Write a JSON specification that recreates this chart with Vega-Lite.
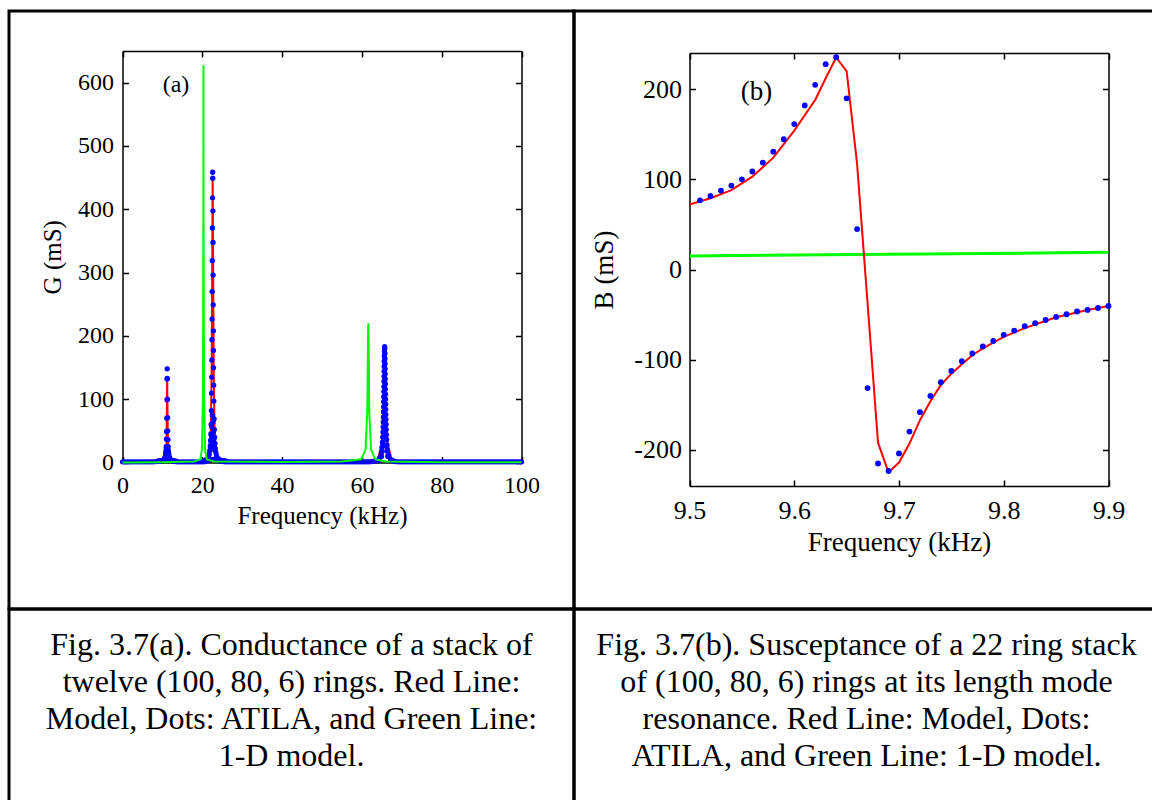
{
  "$schema": "https://vega.github.io/schema/vega-lite/v6.json",
  "background": "white",
  "padding": {"left": 7, "top": 9, "right": 0, "bottom": 0},
  "columns": 2,
  "spacing": 0,
  "bounds": "flush",
  "align": "each",
  "config": {
    "view": {"stroke": "black", "strokeWidth": 3},
    "font": "Liberation Serif",
    "concat": {"spacing": 0},
    "axis": {"grid": false, "domainColor": "black", "domainWidth": 1.5, "tickColor": "black", "tickWidth": 1.5, "tickSize": -6, "labelColor": "black", "titleColor": "black", "labelFont": "Liberation Serif", "titleFont": "Liberation Serif", "titleFontWeight": "normal", "labelFlush": false}
  },
  "datasets": {
    "aModel": [
      {"f":0,"g":0.5},{"f":5,"g":0.8},{"f":8,"g":1.5},{"f":10,"g":3},{"f":10.8,"g":8},{"f":11.0,"g":25},{"f":11.1,"g":70},{"f":11.2,"g":133},{"f":11.3,"g":70},{"f":11.4,"g":25},{"f":11.6,"g":8},{"f":12.5,"g":3},{"f":15,"g":1.5},{"f":20,"g":2.5},{"f":21.5,"g":8},{"f":22.1,"g":40},{"f":22.35,"g":150},{"f":22.5,"g":330},{"f":22.6,"g":452},{"f":22.7,"g":330},{"f":22.85,"g":150},{"f":23.1,"g":40},{"f":23.7,"g":8},{"f":25,"g":3},{"f":30,"g":1.5},{"f":40,"g":1},{"f":50,"g":1.5},{"f":60,"g":2},{"f":64,"g":4},{"f":65,"g":30},{"f":65.4,"g":90},{"f":65.6,"g":170},{"f":65.7,"g":182},{"f":65.8,"g":170},{"f":66,"g":90},{"f":66.4,"g":30},{"f":67.5,"g":4},{"f":70,"g":2},{"f":80,"g":1.5},{"f":100,"g":1}
    ],
    "a1D": [
      {"f":0,"g":0},{"f":10,"g":0.5},{"f":18,"g":1.5},{"f":19.5,"g":5},{"f":19.9,"g":20},{"f":20.15,"g":100},{"f":20.25,"g":300},{"f":20.3,"g":628},{"f":20.35,"g":300},{"f":20.45,"g":100},{"f":20.7,"g":20},{"f":21.1,"g":5},{"f":23,"g":1.5},{"f":40,"g":0.8},{"f":55,"g":1.5},{"f":59.8,"g":5},{"f":60.9,"g":20},{"f":61.35,"g":80},{"f":61.5,"g":180},{"f":61.6,"g":220},{"f":61.7,"g":180},{"f":61.85,"g":80},{"f":62.3,"g":20},{"f":63.4,"g":5},{"f":66,"g":1.5},{"f":80,"g":0.5},{"f":100,"g":0.3}
    ],
    "aAtila": [
      {"f":0,"g":1},{"f":0.6,"g":1},{"f":1.2,"g":1},{"f":1.8,"g":1},{"f":2.4,"g":1},{"f":3,"g":1},{"f":3.6,"g":1},{"f":4.2,"g":1},{"f":4.8,"g":1},{"f":5.4,"g":1},{"f":6,"g":1},{"f":6.6,"g":1},{"f":7.2,"g":1},{"f":7.8,"g":1},{"f":8.4,"g":1.5},{"f":9,"g":2},{"f":9.6,"g":2},{"f":10.2,"g":3},{"f":10.8,"g":4},{"f":11.4,"g":4},{"f":12,"g":3},{"f":12.6,"g":2},{"f":13.2,"g":1.5},{"f":13.8,"g":1},{"f":14.4,"g":1},{"f":15,"g":1},{"f":15.6,"g":1},{"f":16.2,"g":1},{"f":16.8,"g":1},{"f":17.4,"g":1},{"f":18,"g":1},{"f":18.6,"g":1},{"f":19.2,"g":1},{"f":19.8,"g":1},{"f":20.4,"g":1},{"f":21,"g":2},{"f":21.6,"g":4},{"f":22.2,"g":5},{"f":22.8,"g":5},{"f":23.4,"g":4},{"f":24,"g":4},{"f":24.6,"g":2},{"f":25.2,"g":1.5},{"f":25.8,"g":1},{"f":26.4,"g":1},{"f":27,"g":1},{"f":27.6,"g":1},{"f":28.2,"g":1},{"f":28.8,"g":1},{"f":29.4,"g":1},{"f":30,"g":1},{"f":30.6,"g":1},{"f":31.2,"g":1},{"f":31.8,"g":1},{"f":32.4,"g":1},{"f":33,"g":1},{"f":33.6,"g":1},{"f":34.2,"g":1},{"f":34.8,"g":1},{"f":35.4,"g":1},{"f":36,"g":1},{"f":36.6,"g":1},{"f":37.2,"g":1},{"f":37.8,"g":1},{"f":38.4,"g":1},{"f":39,"g":1},{"f":39.6,"g":1},{"f":40.2,"g":1},{"f":40.8,"g":1},{"f":41.4,"g":1},{"f":42,"g":1},{"f":42.6,"g":1},{"f":43.2,"g":1},{"f":43.8,"g":1},{"f":44.4,"g":1},{"f":45,"g":1},{"f":45.6,"g":1},{"f":46.2,"g":1},{"f":46.8,"g":1},{"f":47.4,"g":1},{"f":48,"g":1},{"f":48.6,"g":1},{"f":49.2,"g":1},{"f":49.8,"g":1},{"f":50.4,"g":1},{"f":51,"g":1},{"f":51.6,"g":1},{"f":52.2,"g":1},{"f":52.8,"g":1},{"f":53.4,"g":1},{"f":54,"g":1},{"f":54.6,"g":1},{"f":55.2,"g":1},{"f":55.8,"g":1},{"f":56.4,"g":1},{"f":57,"g":1},{"f":57.6,"g":1},{"f":58.2,"g":1},{"f":58.8,"g":1},{"f":59.4,"g":1},{"f":60,"g":1},{"f":60.6,"g":1},{"f":61.2,"g":1},{"f":61.8,"g":1},{"f":62.4,"g":1.5},{"f":63,"g":2},{"f":63.6,"g":3},{"f":64.2,"g":4},{"f":64.8,"g":10},{"f":66.6,"g":10},{"f":67.2,"g":4},{"f":67.8,"g":2},{"f":68.4,"g":1.5},{"f":69,"g":1},{"f":69.6,"g":1},{"f":70.2,"g":1},{"f":70.8,"g":1},{"f":71.4,"g":1},{"f":72,"g":1},{"f":72.6,"g":1},{"f":73.2,"g":1},{"f":73.8,"g":1},{"f":74.4,"g":1},{"f":75,"g":1},{"f":75.6,"g":1},{"f":76.2,"g":1},{"f":76.8,"g":1},{"f":77.4,"g":1},{"f":78,"g":1},{"f":78.6,"g":1},{"f":79.2,"g":1},{"f":79.8,"g":1},{"f":80.4,"g":1},{"f":81,"g":1},{"f":81.6,"g":1},{"f":82.2,"g":1},{"f":82.8,"g":1},{"f":83.4,"g":1},{"f":84,"g":1},{"f":84.6,"g":1},{"f":85.2,"g":1},{"f":85.8,"g":1},{"f":86.4,"g":1},{"f":87,"g":1},{"f":87.6,"g":1},{"f":88.2,"g":1},{"f":88.8,"g":1},{"f":89.4,"g":1},{"f":90,"g":1},{"f":90.6,"g":1},{"f":91.2,"g":1},{"f":91.8,"g":1},{"f":92.4,"g":1},{"f":93,"g":1},{"f":93.6,"g":1},{"f":94.2,"g":1},{"f":94.8,"g":1},{"f":95.4,"g":1},{"f":96,"g":1},{"f":96.6,"g":1},{"f":97.2,"g":1},{"f":97.8,"g":1},{"f":98.4,"g":1},{"f":99,"g":1},{"f":99.6,"g":1},{"f":100,"g":1},
      {"f":11.2,"g":148},{"f":11.22,"g":133},{"f":11.18,"g":132},{"f":11.25,"g":100},{"f":11.15,"g":99},{"f":11.3,"g":71},{"f":11.1,"g":70},{"f":11.35,"g":50},{"f":11.05,"g":49},{"f":11.4,"g":36},{"f":11.0,"g":37},{"f":11.45,"g":25},{"f":10.95,"g":25},{"f":11.5,"g":19},{"f":10.9,"g":19},{"f":11.55,"g":15},{"f":10.85,"g":15},{"f":11.6,"g":12},{"f":10.8,"g":12},{"f":11.7,"g":9},{"f":10.7,"g":9},{"f":11.8,"g":7},{"f":10.6,"g":7},{"f":11.9,"g":5.5},{"f":10.5,"g":5.5},{"f":12.1,"g":4.5},{"f":10.3,"g":4.5},{"f":12.4,"g":3.5},{"f":10.0,"g":3.5},{"f":12.8,"g":3},{"f":9.6,"g":3},{"f":13.3,"g":2.5},{"f":9.0,"g":2.5},
      {"f":22.6,"g":458.5},{"f":22.62,"g":449},{"f":22.555,"g":418},{"f":22.658,"g":397.5},{"f":22.528,"g":370.5},{"f":22.684,"g":347.7},{"f":22.5,"g":318.8},{"f":22.71,"g":296},{"f":22.475,"g":270},{"f":22.737,"g":249},{"f":22.449,"g":226.5},{"f":22.764,"g":208},{"f":22.425,"g":194},{"f":22.789,"g":177},{"f":22.398,"g":162},{"f":22.815,"g":149.5},{"f":22.369,"g":135},{"f":22.848,"g":122},{"f":22.333,"g":109.5},{"f":22.889,"g":97},{"f":22.28,"g":82},{"f":22.955,"g":69},{"f":22.215,"g":60},{"f":23.018,"g":52},{"f":22.147,"g":45},{"f":23.084,"g":40},{"f":22.08,"g":35},{"f":23.165,"g":30},{"f":21.99,"g":26},{"f":23.265,"g":22},{"f":21.88,"g":19},{"f":23.385,"g":16},{"f":21.725,"g":13},{"f":23.555,"g":11},{"f":21.55,"g":9},{"f":23.8,"g":7},{"f":21.3,"g":6},{"f":24.0,"g":5.5},{"f":21.0,"g":4.5},{"f":24.4,"g":4},{"f":20.6,"g":3.5},{"f":24.8,"g":3.5},{"f":25.3,"g":3},{"f":25.8,"g":2.5},{"f":22.5,"g":75},{"f":22.7,"g":64},{"f":22.4,"g":56},{"f":22.8,"g":48},{"f":22.3,"g":42},{"f":22.9,"g":37},{"f":22.2,"g":32},{"f":23.0,"g":27},{"f":22.1,"g":24},{"f":23.1,"g":20},
      {"f":65.7,"g":183},{"f":65.73,"g":180},{"f":65.65,"g":176},{"f":65.763,"g":172},{"f":65.625,"g":168},{"f":65.785,"g":164},{"f":65.605,"g":160},{"f":65.804,"g":156},{"f":65.587,"g":152},{"f":65.822,"g":148},{"f":65.57,"g":144},{"f":65.839,"g":140},{"f":65.553,"g":136},{"f":65.855,"g":132},{"f":65.536,"g":128},{"f":65.872,"g":124},{"f":65.519,"g":120},{"f":65.89,"g":116},{"f":65.501,"g":112},{"f":65.908,"g":108},{"f":65.482,"g":104},{"f":65.928,"g":100},{"f":65.462,"g":96},{"f":65.949,"g":92},{"f":65.44,"g":88},{"f":65.971,"g":84},{"f":65.416,"g":80},{"f":65.997,"g":76},{"f":65.39,"g":72},{"f":66.025,"g":68},{"f":65.359,"g":64},{"f":66.058,"g":60},{"f":65.323,"g":56},{"f":66.097,"g":52},{"f":65.281,"g":48},{"f":66.144,"g":44},{"f":65.227,"g":40},{"f":66.205,"g":36},{"f":65.157,"g":32},{"f":66.288,"g":28},{"f":65.057,"g":24},{"f":66.414,"g":20},{"f":64.892,"g":16},{"f":66.644,"g":12},{"f":64.53,"g":8},{"f":67.19,"g":5},{"f":64.3,"g":4},{"f":67.3,"g":3.5},{"f":63.8,"g":3},{"f":67.8,"g":3},{"f":64.9,"g":10},{"f":66.5,"g":10},{"f":65.1,"g":18},{"f":66.3,"g":18},{"f":65.2,"g":26},{"f":66.2,"g":26}
    ],
    "aLabel": [{"f":13.4,"g":597,"t":"(a)"}],
    "bModel": [
      {"f":9.5,"b":72},{"f":9.52,"b":79},{"f":9.54,"b":88},{"f":9.56,"b":103},{"f":9.58,"b":124},{"f":9.6,"b":154},{"f":9.61,"b":171},{"f":9.62,"b":188},{"f":9.63,"b":212},{"f":9.64,"b":235},{"f":9.65,"b":220},{"f":9.66,"b":117},{"f":9.68,"b":-192},{"f":9.69,"b":-225},{"f":9.7,"b":-214},{"f":9.71,"b":-193},{"f":9.72,"b":-167},{"f":9.73,"b":-146},{"f":9.74,"b":-128},{"f":9.75,"b":-115.5},{"f":9.76,"b":-105},{"f":9.77,"b":-95},{"f":9.78,"b":-87.5},{"f":9.8,"b":-74.6},{"f":9.82,"b":-65},{"f":9.85,"b":-53},{"f":9.88,"b":-45},{"f":9.9,"b":-40.5}
    ],
    "bAtila": [
      {"f":9.51,"b":76.7},{"f":9.52,"b":81.5},{"f":9.53,"b":87.5},{"f":9.54,"b":93},{"f":9.55,"b":100},{"f":9.56,"b":108.6},{"f":9.57,"b":118.5},{"f":9.58,"b":130.6},{"f":9.59,"b":144.4},{"f":9.6,"b":161.2},{"f":9.61,"b":181.9},{"f":9.62,"b":204.7},{"f":9.63,"b":227.6},{"f":9.64,"b":235.3},{"f":9.65,"b":189.7},{"f":9.66,"b":44.8},{"f":9.67,"b":-131.5},{"f":9.68,"b":-215},{"f":9.69,"b":-223.3},{"f":9.7,"b":-203.9},{"f":9.71,"b":-179.7},{"f":9.72,"b":-158.2},{"f":9.73,"b":-140.1},{"f":9.74,"b":-125},{"f":9.75,"b":-112.5},{"f":9.76,"b":-101.7},{"f":9.77,"b":-93.1},{"f":9.78,"b":-85.3},{"f":9.79,"b":-79.3},{"f":9.8,"b":-72.4},{"f":9.81,"b":-67.7},{"f":9.82,"b":-62.9},{"f":9.83,"b":-59.5},{"f":9.84,"b":-56},{"f":9.85,"b":-52.6},{"f":9.86,"b":-49.6},{"f":9.87,"b":-46.6},{"f":9.88,"b":-44.8},{"f":9.89,"b":-42.7},{"f":9.9,"b":-40.5}
    ],
    "b1D": [{"f":9.5,"b":15},{"f":9.9,"b":19}],
    "bLabel": [{"f":9.564,"b":197,"t":"(b)"}],
    "capA": [{"t":"Fig. 3.7(a). Conductance of a stack of\ntwelve (100, 80, 6) rings.  Red Line:\nModel, Dots: ATILA, and Green Line:\n1-D model."}],
    "capB": [{"t":"Fig. 3.7(b).  Susceptance of a 22 ring stack\nof (100, 80, 6) rings at its length mode\nresonance.  Red Line: Model, Dots:\nATILA, and Green Line: 1-D model."}]
  },
  "concat": [
    {
      "width": 565,
      "height": 598,
      "resolve": {"axis": {"x": "independent", "y": "independent"}},
      "layer": [
        {
          "data": {"name": "aModel"},
          "mark": {"type": "line", "color": "#ff0000", "strokeWidth": 2},
          "encoding": {
            "x": {"field": "f", "type": "quantitative", "scale": {"domain": [0, 100], "range": [113.5, 512.5], "nice": false, "zero": false},
              "axis": {"orient": "bottom", "offset": -146.5, "values": [0, 20, 40, 60, 80, 100], "labelFontSize": 24, "labelPadding": 17, "title": "Frequency (kHz)", "titleFontSize": 25, "titlePadding": 6}},
            "y": {"field": "g", "type": "quantitative", "scale": {"domain": [0, 650], "range": [451.5, 40], "nice": false, "zero": false},
              "axis": {"orient": "left", "offset": -113.5, "values": [0, 100, 200, 300, 400, 500, 600], "labelFontSize": 24, "labelPadding": 15, "title": "G  (mS)", "titleFontSize": 25, "titlePadding": 12}}
          }
        },
        {
          "data": {"name": "aAtila"},
          "mark": {"type": "circle", "color": "#0000ff", "size": 28, "opacity": 1},
          "encoding": {
            "x": {"field": "f", "type": "quantitative", "scale": {"domain": [0, 100], "range": [113.5, 512.5], "nice": false, "zero": false},
              "axis": {"orient": "top", "offset": -40, "values": [0, 20, 40, 60, 80, 100], "labels": false, "title": null}},
            "y": {"field": "g", "type": "quantitative", "scale": {"domain": [0, 650], "range": [451.5, 40], "nice": false, "zero": false},
              "axis": {"orient": "right", "offset": -52.5, "values": [0, 100, 200, 300, 400, 500, 600], "labels": false, "title": null}}
          }
        },
        {
          "data": {"name": "a1D"},
          "mark": {"type": "line", "color": "#00ff00", "strokeWidth": 2},
          "encoding": {
            "x": {"field": "f", "type": "quantitative", "axis": null},
            "y": {"field": "g", "type": "quantitative", "axis": null}
          }
        },
        {
          "data": {"name": "aLabel"},
          "mark": {"type": "text", "fontSize": 24, "color": "black", "align": "center", "baseline": "middle"},
          "encoding": {
            "x": {"field": "f", "type": "quantitative", "axis": null},
            "y": {"field": "g", "type": "quantitative", "axis": null},
            "text": {"field": "t", "type": "nominal"}
          }
        }
      ]
    },
    {
      "width": 585,
      "height": 598,
      "resolve": {"axis": {"x": "independent", "y": "independent"}},
      "layer": [
        {
          "data": {"name": "b1D"},
          "mark": {"type": "line", "color": "#00ff00", "strokeWidth": 3},
          "encoding": {
            "x": {"field": "f", "type": "quantitative", "scale": {"domain": [9.5, 9.9], "range": [115.5, 534.5], "nice": false, "zero": false},
              "axis": {"orient": "bottom", "offset": -123, "values": [9.5, 9.6, 9.7, 9.8, 9.9], "format": ".1f", "labelFontSize": 26, "labelPadding": 17, "title": "Frequency (kHz)", "titleFontSize": 27, "titlePadding": 6}},
            "y": {"field": "b", "type": "quantitative", "scale": {"domain": [-240, 240], "range": [475, 42], "nice": false, "zero": false},
              "axis": {"orient": "left", "offset": -115.5, "values": [-200, -100, 0, 100, 200], "labelExpr": "'' + datum.value", "labelFontSize": 26, "labelPadding": 14, "title": "B  (mS)", "titleFontSize": 27, "titlePadding": 15}}
          }
        },
        {
          "data": {"name": "bModel"},
          "mark": {"type": "line", "color": "#ff0000", "strokeWidth": 2},
          "encoding": {
            "x": {"field": "f", "type": "quantitative", "scale": {"domain": [9.5, 9.9], "range": [115.5, 534.5], "nice": false, "zero": false},
              "axis": {"orient": "top", "offset": -42, "values": [9.5, 9.6, 9.7, 9.8, 9.9], "labels": false, "title": null}},
            "y": {"field": "b", "type": "quantitative", "scale": {"domain": [-240, 240], "range": [475, 42], "nice": false, "zero": false},
              "axis": {"orient": "right", "offset": -50.5, "values": [-200, -100, 0, 100, 200], "labels": false, "title": null}}
          }
        },
        {
          "data": {"name": "bAtila"},
          "mark": {"type": "circle", "color": "#0000ff", "size": 34, "opacity": 1},
          "encoding": {
            "x": {"field": "f", "type": "quantitative", "axis": null},
            "y": {"field": "b", "type": "quantitative", "axis": null}
          }
        },
        {
          "data": {"name": "bLabel"},
          "mark": {"type": "text", "fontSize": 27, "color": "black", "align": "center", "baseline": "middle"},
          "encoding": {
            "x": {"field": "f", "type": "quantitative", "axis": null},
            "y": {"field": "b", "type": "quantitative", "axis": null},
            "text": {"field": "t", "type": "nominal"}
          }
        }
      ]
    },
    {
      "width": 565,
      "height": 200,
      "data": {"name": "capA"},
      "mark": {"type": "text", "fontSize": 32, "lineHeight": 37, "lineBreak": "\n", "align": "center", "baseline": "middle", "color": "black"},
      "encoding": {
        "x": {"datum": 0.5, "type": "quantitative", "scale": {"domain": [0, 1]}, "axis": null},
        "y": {"datum": 0.82, "type": "quantitative", "scale": {"domain": [0, 1]}, "axis": null},
        "text": {"field": "t", "type": "nominal"}
      }
    },
    {
      "width": 585,
      "height": 200,
      "data": {"name": "capB"},
      "mark": {"type": "text", "fontSize": 32, "lineHeight": 37, "lineBreak": "\n", "align": "center", "baseline": "middle", "color": "black"},
      "encoding": {
        "x": {"datum": 0.5, "type": "quantitative", "scale": {"domain": [0, 1]}, "axis": null},
        "y": {"datum": 0.82, "type": "quantitative", "scale": {"domain": [0, 1]}, "axis": null},
        "text": {"field": "t", "type": "nominal"}
      }
    }
  ]
}
